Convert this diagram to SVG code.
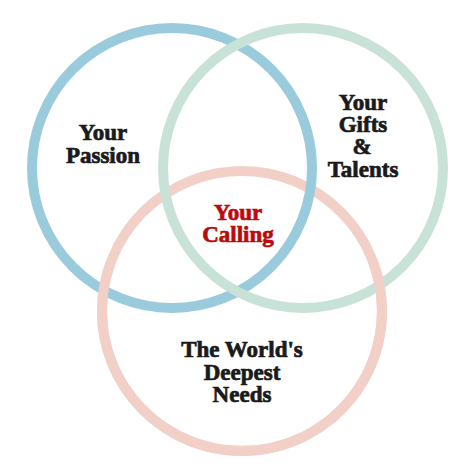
<svg xmlns="http://www.w3.org/2000/svg" width="474" height="474" viewBox="0 0 474 474">
<style>
.ring{fill:none;stroke-width:10}
.blue{stroke:#9acbdc}
.green{stroke:#c8e2d7}
.pink{stroke:#f2d0c8}
.lbl{font-family:"Liberation Serif","Times New Roman",serif;font-weight:bold;font-size:23px;text-anchor:middle;fill:#1a1a1a;stroke:#1a1a1a;stroke-width:0.7}
.red{fill:#bb0a0a;stroke:#bb0a0a}
</style>
<rect width="474" height="474" fill="#ffffff"/>
<g id="connectors">
<circle id="ring-pink" class="ring pink" cx="242" cy="311" r="140"/>
<circle id="ring-blue" class="ring blue" cx="172" cy="168" r="140"/>
<circle id="ring-green" class="ring green" cx="303" cy="168" r="140"/>
<path id="ring-pink-lower" class="ring pink" d="M 110.4 263.1 A 140 140 0 1 0 373.6 263.1"/>
</g>
<g id="passion"><text class="lbl" x="103" y="140">Your</text><text class="lbl" x="103" y="163">Passion</text></g>
<g id="gifts"><text class="lbl" x="363" y="110">Your</text><text class="lbl" x="363" y="132">Gifts</text><text class="lbl" x="362" y="154">&amp;</text><text class="lbl" x="363" y="177">Talents</text></g>
<g id="calling"><text class="lbl red" x="238" y="220">Your</text><text class="lbl red" x="238" y="242">Calling</text></g>
<g id="needs"><text class="lbl" x="242" y="357">The World's</text><text class="lbl" x="242" y="380">Deepest</text><text class="lbl" x="242" y="402">Needs</text></g>
</svg>
